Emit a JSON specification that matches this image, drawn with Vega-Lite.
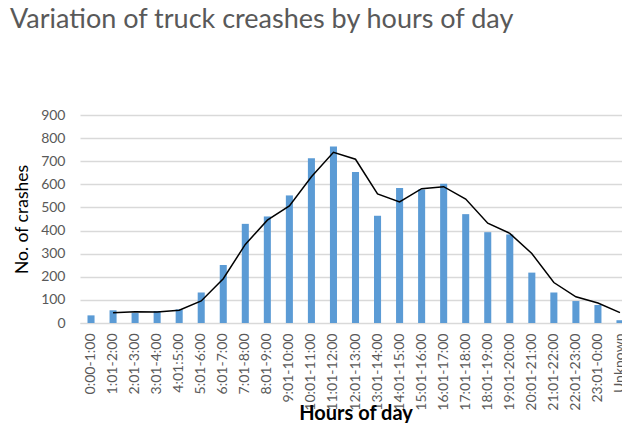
{
  "$schema": "https://vega.github.io/schema/vega-lite/v6.json",
  "autosize": "none",
  "width": 551,
  "height": 208,
  "padding": {"left": 80, "top": 115, "right": 0, "bottom": 100},
  "background": "white",
  "title": {
    "text": "Variation of truck creashes by hours of day",
    "anchor": "start",
    "frame": "group",
    "dx": -70,
    "offset": 53,
    "baseline": "alphabetic",
    "font": "Lato",
    "fontSize": 27,
    "fontWeight": "normal",
    "color": "#595959"
  },
  "config": {
    "view": {"stroke": null},
    "font": "Lato",
    "axisY": {
      "title": "No. of crashes",
      "titleFont": "Lato",
      "titleFontSize": 17.5,
      "titleFontWeight": "normal",
      "titleColor": "#000000",
      "titleX": -53,
      "titleBaseline": "alphabetic",
      "labelOverlap": false,
      "labelFontSize": 14,
      "labelColor": "#595959",
      "labelPadding": 15,
      "ticks": false,
      "domain": false,
      "gridColor": "#D9D9D9",
      "gridWidth": 1.5
    }
  },
  "data": {
    "values": [
      {"hour": "0:00-1:00", "crashes": 33, "trend": null},
      {"hour": "1:01-2:00", "crashes": 55, "trend": 44},
      {"hour": "2:01-3:00", "crashes": 43, "trend": 49},
      {"hour": "3:01-4:00", "crashes": 52, "trend": 47.5},
      {"hour": "4:01:5:00", "crashes": 59, "trend": 55.5},
      {"hour": "5:01-6:00", "crashes": 132, "trend": 95.5},
      {"hour": "6:01-7:00", "crashes": 251, "trend": 191.5},
      {"hour": "7:01-8:00", "crashes": 429, "trend": 340},
      {"hour": "8:01-9:00", "crashes": 461, "trend": 445},
      {"hour": "9:01-10:00", "crashes": 552, "trend": 506.5},
      {"hour": "10:01-11:00", "crashes": 713, "trend": 632.5},
      {"hour": "11:01-12:00", "crashes": 764, "trend": 738.5},
      {"hour": "12:01-13:00", "crashes": 653, "trend": 708.5},
      {"hour": "13:01-14:00", "crashes": 464, "trend": 558.5},
      {"hour": "14:01-15:00", "crashes": 584, "trend": 524},
      {"hour": "15:01-16:00", "crashes": 578, "trend": 581},
      {"hour": "16:01-17:00", "crashes": 602, "trend": 590},
      {"hour": "17:01-18:00", "crashes": 471, "trend": 536.5},
      {"hour": "18:01-19:00", "crashes": 393, "trend": 432},
      {"hour": "19:01-20:00", "crashes": 383, "trend": 388},
      {"hour": "20:01-21:00", "crashes": 218, "trend": 300.5},
      {"hour": "21:01-22:00", "crashes": 132, "trend": 175},
      {"hour": "22:01-23:00", "crashes": 95, "trend": 113.5},
      {"hour": "23:01-0:00", "crashes": 78, "trend": 86.5},
      {"hour": "Unknown", "crashes": 12, "trend": 45}
    ]
  },
  "encoding": {
    "x": {
      "field": "hour",
      "type": "nominal",
      "sort": null,
      "scale": {"paddingInner": 0.68, "paddingOuter": 0.34},
      "axis": {
        "title": "Hours of day",
        "titleFont": "Lato",
        "titleFontSize": 20,
        "titleFontWeight": "bold",
        "titleColor": "#000000",
        "titleY": 96,
        "titleBaseline": "alphabetic",
        "labelAngle": -90,
        "labelAlign": "right",
        "labelBaseline": "middle",
        "labelPadding": 10,
        "labelFontSize": 14,
        "labelColor": "#595959",
        "labelOverlap": false,
        "ticks": false,
        "domainColor": "#D9D9D9",
        "domainWidth": 1,
        "grid": false
      }
    }
  },
  "layer": [
    {
      "mark": {"type": "bar", "color": "#5B9BD5"},
      "encoding": {
        "y": {
          "field": "crashes",
          "type": "quantitative",
          "scale": {"domain": [0, 900], "nice": false},
          "axis": {
            "title": "No. of crashes",
            "values": [0, 100, 200, 300, 400, 500, 600, 700, 800, 900]
          }
        }
      }
    },
    {
      "mark": {"type": "line", "color": "#000000", "strokeWidth": 1.5},
      "encoding": {
        "y": {
          "field": "trend",
          "type": "quantitative",
          "axis": {
            "title": "No. of crashes",
            "values": [0, 100, 200, 300, 400, 500, 600, 700, 800, 900]
          }
        }
      }
    }
  ]
}
